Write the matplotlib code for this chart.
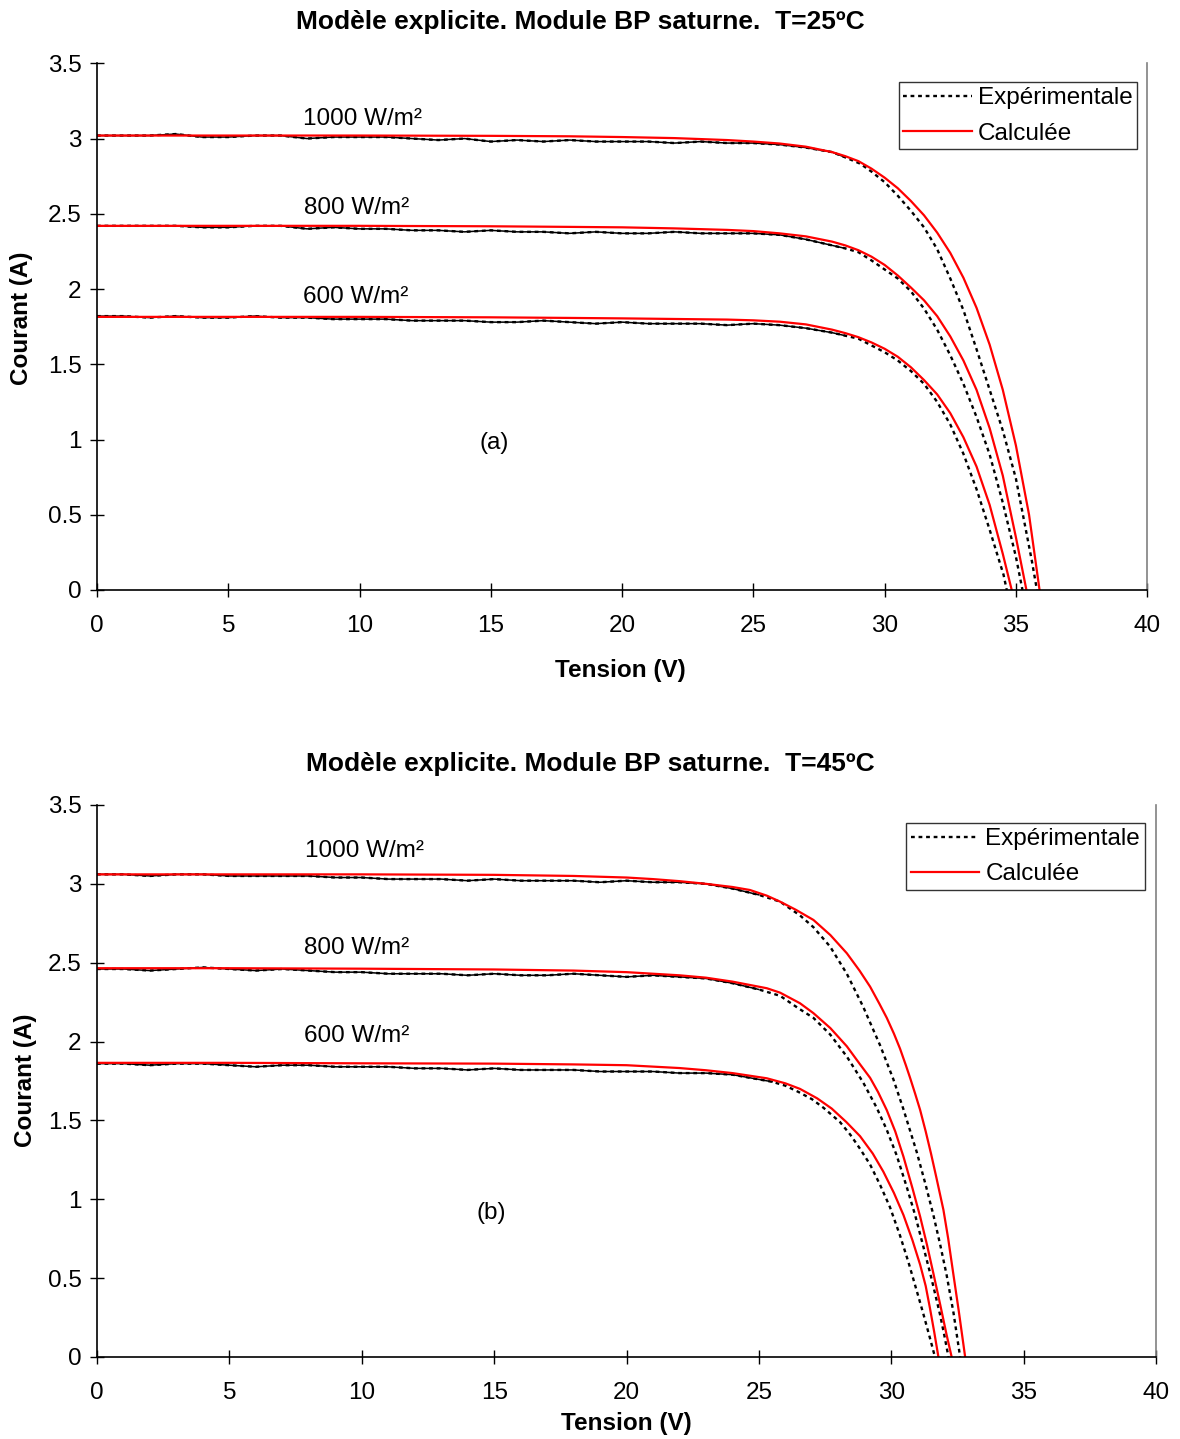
import matplotlib.pyplot as plt
import numpy as np
from matplotlib.lines import Line2D
from matplotlib.ticker import FuncFormatter, MultipleLocator

plt.rcParams['font.family'] = ['Liberation Sans', 'DejaVu Sans']

# =========================================================
# DONNEES
# =========================================================
flat25 = list(range(0, 29))   # 0..28 V, partie plate des mesures a 25 C
flat45 = list(range(0, 26))   # 0..25 V, partie plate des mesures a 45 C

# ---- T = 25 C : experimentale ----
v_exp25_1000 = flat25 + [28.5, 29.07, 29.5, 30, 30.5, 31, 31.5, 32, 32.5, 33, 33.5, 34, 34.5, 35, 35.3, 35.6, 35.8]
i_exp25_1000 = [3.02, 3.02, 3.02, 3.03, 3.01, 3.01, 3.02, 3.02, 3.00, 3.01,
                3.01, 3.01, 3.00, 2.99, 3.00, 2.98, 2.99, 2.98, 2.99, 2.98,
                2.98, 2.98, 2.97, 2.98, 2.97, 2.97, 2.96, 2.94, 2.91,
                2.875, 2.833, 2.78, 2.71, 2.62, 2.52, 2.41, 2.265, 2.07, 1.86, 1.60, 1.33, 1.06, 0.74, 0.47, 0.20, 0.0]
v_exp25_800 = flat25 + [28.5, 29, 29.5, 30, 30.5, 31, 31.5, 32, 32.5, 33, 33.5, 34, 34.5, 35, 35.25]
i_exp25_800 = [2.42, 2.42, 2.42, 2.42, 2.41, 2.41, 2.42, 2.42, 2.40, 2.41,
               2.40, 2.40, 2.39, 2.39, 2.38, 2.39, 2.38, 2.38, 2.37, 2.38,
               2.37, 2.37, 2.38, 2.37, 2.37, 2.37, 2.36, 2.33, 2.29,
               2.27, 2.245, 2.19, 2.13, 2.07, 1.985, 1.87, 1.73, 1.56, 1.37, 1.15, 0.90, 0.58, 0.22, 0.0]
v_exp25_600 = flat25 + [28.5, 29, 29.5, 30, 30.5, 31, 31.5, 32, 32.5, 33, 33.5, 34, 34.3, 34.53, 34.65]
i_exp25_600 = [1.82, 1.82, 1.81, 1.82, 1.81, 1.81, 1.82, 1.81, 1.81, 1.80,
               1.80, 1.80, 1.79, 1.79, 1.79, 1.78, 1.78, 1.79, 1.78, 1.77,
               1.78, 1.77, 1.77, 1.77, 1.76, 1.77, 1.76, 1.74, 1.71,
               1.69, 1.67, 1.625, 1.58, 1.525, 1.455, 1.37, 1.25, 1.10, 0.905, 0.67, 0.40, 0.23, 0.10, 0.0]

# ---- T = 25 C : calculee ----
v_cal25_1000 = [0, 5, 10, 15, 18, 20, 22, 24, 25, 26, 27, 28, 28.5, 29, 29.5, 30, 30.5, 31, 31.5,
                32, 32.5, 33, 33.5, 34, 34.5, 35, 35.5, 35.9]
i_cal25_1000 = [3.02, 3.02, 3.02, 3.018, 3.015, 3.01, 3.003, 2.99, 2.98, 2.967, 2.946, 2.91, 2.883, 2.85,
                2.80, 2.74, 2.67, 2.585, 2.49, 2.375, 2.24, 2.075, 1.875, 1.63, 1.33, 0.96, 0.50, 0.0]
v_cal25_800 = [0, 5, 10, 15, 18, 20, 22, 24, 25, 26, 27, 28, 28.5, 29, 29.5, 30, 30.5, 31, 31.5,
               32, 32.5, 33, 33.5, 34, 34.5, 35, 35.4]
i_cal25_800 = [2.42, 2.42, 2.42, 2.417, 2.413, 2.41, 2.403, 2.393, 2.385, 2.37, 2.35, 2.315, 2.29, 2.258,
               2.215, 2.16, 2.09, 2.01, 1.925, 1.82, 1.685, 1.525, 1.33, 1.075, 0.76, 0.35, 0.0]
v_cal25_600 = [0, 5, 10, 15, 18, 20, 22, 24, 25, 26, 27, 28, 28.5, 29, 29.5, 30, 30.5, 31, 31.5,
               32, 32.5, 33, 33.5, 34, 34.5, 34.84]
i_cal25_600 = [1.815, 1.815, 1.815, 1.812, 1.808, 1.805, 1.801, 1.797, 1.792, 1.783, 1.765, 1.73, 1.707,
               1.68, 1.645, 1.603, 1.55, 1.48, 1.395, 1.30, 1.175, 1.015, 0.82, 0.565, 0.24, 0.0]

# ---- T = 45 C : experimentale ----
v_exp45_1000 = flat45 + [25.8, 26.55, 27.06, 27.69, 28.32, 28.94, 29.58, 30.08, 30.46, 30.96, 31.3, 31.59,
                         31.85, 32.09, 32.35, 32.6]
i_exp45_1000 = [3.06, 3.06, 3.05, 3.06, 3.06, 3.05, 3.05, 3.05, 3.05, 3.04,
                3.04, 3.03, 3.03, 3.03, 3.02, 3.03, 3.02, 3.02, 3.02, 3.01,
                3.02, 3.01, 3.01, 3.00, 2.97, 2.93,
                2.887, 2.80, 2.725, 2.602, 2.43, 2.22, 1.975, 1.76, 1.57, 1.30, 1.09, 0.90, 0.71, 0.52, 0.28, 0.0]
v_exp45_800 = flat45 + [25.8, 26.5, 27.06, 27.69, 28.32, 28.94, 29.45, 29.83, 30.2, 30.58, 30.9, 31.21,
                        31.5, 31.84, 32.0, 32.16]
i_exp45_800 = [2.46, 2.46, 2.45, 2.46, 2.47, 2.46, 2.45, 2.46, 2.45, 2.44,
               2.44, 2.43, 2.43, 2.43, 2.42, 2.43, 2.42, 2.42, 2.43, 2.42,
               2.41, 2.42, 2.41, 2.40, 2.37, 2.33,
               2.29, 2.21, 2.15, 2.045, 1.905, 1.74, 1.58, 1.44, 1.28, 1.08, 0.90, 0.70, 0.51, 0.27, 0.14, 0.0]
v_exp45_600 = flat45 + [25.5, 26.0, 26.5, 27.0, 27.44, 28.06, 28.45, 28.82, 29.2, 29.58, 29.95, 30.33,
                        30.65, 30.96, 31.2, 31.46, 31.65]
i_exp45_600 = [1.86, 1.86, 1.85, 1.86, 1.86, 1.85, 1.84, 1.85, 1.85, 1.84,
               1.84, 1.84, 1.83, 1.83, 1.82, 1.83, 1.82, 1.82, 1.82, 1.81,
               1.81, 1.81, 1.80, 1.80, 1.79, 1.76,
               1.745, 1.72, 1.68, 1.635, 1.58, 1.49, 1.41, 1.32, 1.22, 1.09, 0.95, 0.77, 0.60, 0.42, 0.28, 0.12, 0.0]

# ---- T = 45 C : calculee ----
v_cal45_1000 = [0, 5, 10, 15, 18, 20, 21, 22, 23, 24, 24.66, 25.3, 25.8, 26.4, 27.06, 27.7, 28.32, 28.8,
                29.2, 29.55, 29.83, 30.1, 30.33, 30.55, 30.71, 30.9, 31.09, 31.3, 31.5, 31.7, 31.97,
                32.15, 32.34, 32.55, 32.79]
i_cal45_1000 = [3.06, 3.06, 3.06, 3.057, 3.05, 3.04, 3.03, 3.017, 3.0, 2.98, 2.961, 2.925, 2.887, 2.835,
                2.771, 2.675, 2.56, 2.45, 2.348, 2.24, 2.15, 2.05, 1.955, 1.85, 1.77, 1.67, 1.566,
                1.43, 1.29, 1.14, 0.932, 0.75, 0.53, 0.29, 0.0]
v_cal45_800 = [0, 5, 10, 15, 18, 20, 22, 23, 24, 25.3, 25.8, 26.55, 27.06, 27.7, 28.32, 28.8, 29.2, 29.5,
               29.83, 30.15, 30.46, 30.8, 31.09, 31.35, 31.59, 31.85, 32.09, 32.28]
i_cal45_800 = [2.465, 2.465, 2.462, 2.457, 2.45, 2.44, 2.42, 2.405, 2.38, 2.338, 2.31, 2.243, 2.18, 2.085,
               1.97, 1.86, 1.77, 1.68, 1.565, 1.43, 1.27, 1.07, 0.89, 0.71, 0.53, 0.33, 0.14, 0.0]
v_cal45_600 = [0, 5, 10, 15, 18, 20, 22, 23, 24, 25.3, 26.0, 26.55, 27.2, 27.75, 28.3, 28.82, 29.3, 29.7,
               30.1, 30.46, 30.8, 31.09, 31.3, 31.46, 31.62, 31.78]
i_cal45_600 = [1.865, 1.865, 1.862, 1.86, 1.855, 1.85, 1.832, 1.818, 1.80, 1.767, 1.735, 1.70, 1.64, 1.575,
               1.49, 1.40, 1.29, 1.175, 1.04, 0.90, 0.74, 0.585, 0.45, 0.31, 0.16, 0.0]

irradiances = ['1000 W/m²', '800 W/m²', '600 W/m²']

FS = 17.5

# =========================================================
# FIGURE
# =========================================================
fig = plt.figure(figsize=(11.8, 14.39), dpi=100)

def tracer(ax, exp, cal, v_plat, labels_pos, lettre_pos, lettre, leg_anchor):
    for v, i in exp:
        v = np.array(v); i = np.array(i)
        m = v <= v_plat
        ax.plot(v[m], i[m], color='black', lw=1.1, solid_joinstyle='round')
        ax.plot(v, i, color='black', lw=1.7, linestyle=(0, (1.6, 1.6)))
    for v, i in cal:
        ax.plot(v, i, color='#ff0000', lw=1.6)
    for txt, (x, y) in zip(irradiances, labels_pos):
        ax.text(x, y, txt, fontsize=FS, ha='center', va='center')
    ax.text(lettre_pos[0], lettre_pos[1], lettre, fontsize=FS, ha='center', va='center')

    ax.set_xlim(0, 40)
    ax.set_ylim(0, 3.5)
    ax.xaxis.set_major_locator(MultipleLocator(5))
    ax.yaxis.set_major_locator(MultipleLocator(0.5))
    ax.yaxis.set_major_formatter(FuncFormatter(lambda x, p: f'{x:g}'))
    ax.tick_params(axis='both', direction='inout', length=10, width=1, labelsize=FS)
    ax.tick_params(axis='x', pad=13)
    ax.tick_params(axis='y', pad=6)
    ax.spines['top'].set_visible(False)
    ax.spines['right'].set_color('#808080')
    ax.spines['right'].set_linewidth(1.2)
    for s in ['left', 'bottom']:
        ax.spines[s].set_linewidth(1.2)

    handles = [Line2D([], [], color='black', lw=1.7, linestyle=(0, (1.6, 1.6))),
               Line2D([], [], color='#ff0000', lw=1.6)]
    leg = ax.legend(handles, ['Expérimentale', 'Calculée'], loc='upper right',
                    bbox_to_anchor=leg_anchor, fontsize=FS, frameon=True, fancybox=False,
                    handlelength=2.8, handletextpad=0.25, borderpad=0.2, labelspacing=0.55,
                    borderaxespad=0)
    leg.get_frame().set_edgecolor('black')
    leg.get_frame().set_linewidth(1.0)

# --- (a) T = 25 C ---
ax1 = fig.add_axes([0.0822, 0.590, 0.890, 0.366])
tracer(ax1,
       [(v_exp25_1000, i_exp25_1000), (v_exp25_800, i_exp25_800), (v_exp25_600, i_exp25_600)],
       [(v_cal25_1000, i_cal25_1000), (v_cal25_800, i_cal25_800), (v_cal25_600, i_cal25_600)],
       28.5, [(10.13, 3.13), (9.87, 2.54), (9.87, 1.945)], (15.12, 0.98), '(a)', (0.9905, 0.964))
fig.text(0.492, 0.985, 'Modèle explicite. Module BP saturne.  T=25ºC', fontsize=19,
         fontweight='bold', ha='center', va='center')
fig.text(0.5256, 0.534, 'Tension (V)', fontsize=FS, fontweight='bold', ha='center', va='center')
fig.text(0.0186, 0.779, 'Courant (A)', fontsize=FS, fontweight='bold', ha='center', va='center', rotation=90)

# --- (b) T = 45 C ---
ax2 = fig.add_axes([0.0822, 0.057, 0.8975, 0.3836])
tracer(ax2,
       [(v_exp45_1000, i_exp45_1000), (v_exp45_800, i_exp45_800), (v_exp45_600, i_exp45_600)],
       [(v_cal45_1000, i_cal45_1000), (v_cal45_800, i_cal45_800), (v_cal45_600, i_cal45_600)],
       25.5, [(10.12, 3.21), (9.82, 2.593), (9.82, 2.035)], (14.88, 0.913), '(b)', (0.9896, 0.967))
fig.text(0.5, 0.469, 'Modèle explicite. Module BP saturne.  T=45ºC', fontsize=19,
         fontweight='bold', ha='center', va='center')
fig.text(0.5305, 0.0111, 'Tension (V)', fontsize=FS, fontweight='bold', ha='center', va='center')
fig.text(0.0212, 0.2495, 'Courant (A)', fontsize=FS, fontweight='bold', ha='center', va='center', rotation=90)

plt.savefig('out.png', dpi=100)
plt.close()
